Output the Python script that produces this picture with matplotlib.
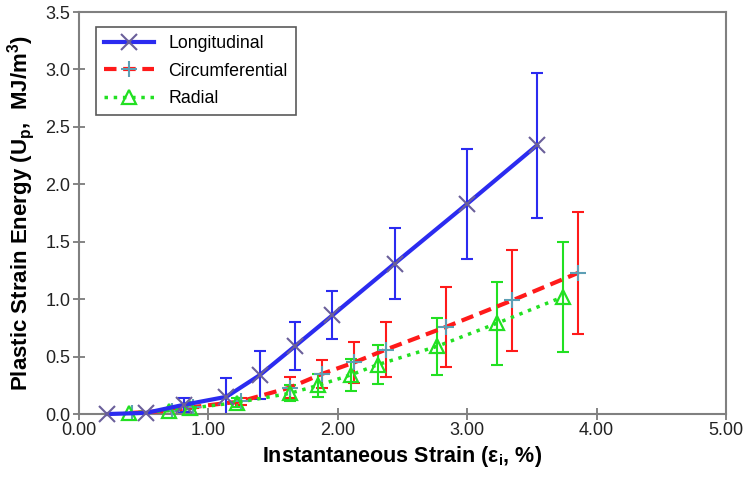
import matplotlib
matplotlib.use('Agg')
import matplotlib.pyplot as plt

plt.rcParams['font.family'] = ['Liberation Sans', 'DejaVu Sans']
plt.rcParams['mathtext.fontset'] = 'custom'
plt.rcParams['mathtext.rm'] = 'Liberation Sans'
plt.rcParams['mathtext.bf'] = 'Liberation Sans:bold'

# ---- data ----
long_x = [0.22, 0.52, 0.81, 1.14, 1.40, 1.67, 1.96, 2.44, 3.00, 3.54]
long_y = [0.00, 0.01, 0.08, 0.15, 0.34, 0.59, 0.86, 1.31, 1.83, 2.34]
long_err = [0.00, 0.00, 0.06, 0.16, 0.21, 0.21, 0.21, 0.31, 0.48, 0.63]

circ_x = [0.41, 0.72, 0.88, 1.25, 1.63, 1.88, 2.13, 2.37, 2.84, 3.35, 3.86]
circ_y = [0.01, 0.03, 0.06, 0.11, 0.23, 0.35, 0.45, 0.56, 0.76, 0.99, 1.23]
circ_err = [0.00, 0.00, 0.01, 0.03, 0.09, 0.12, 0.18, 0.24, 0.35, 0.44, 0.53]

rad_x = [0.39, 0.70, 0.86, 1.22, 1.63, 1.85, 2.10, 2.31, 2.77, 3.23, 3.74]
rad_y = [0.01, 0.03, 0.05, 0.10, 0.18, 0.25, 0.34, 0.43, 0.59, 0.79, 1.02]
rad_err = [0.00, 0.00, 0.01, 0.04, 0.07, 0.10, 0.14, 0.17, 0.25, 0.36, 0.48]

xticks = [0, 1, 2, 3, 4, 5]
yticks = [0, 0.5, 1.0, 1.5, 2.0, 2.5, 3.0, 3.5]

blue = '#2b2bf0'
red = '#ff1a1a'
green = '#22e022'

fig = plt.figure(figsize=(7.5, 4.82), dpi=100)
ax = fig.add_axes([0.105, 0.141, 0.863, 0.834])

# error bars first (drawn under lines)
ax.errorbar(long_x, long_y, yerr=long_err, fmt='none', ecolor=blue, elinewidth=1.5, capsize=4, capthick=1.5, zorder=2)
ax.errorbar(circ_x, circ_y, yerr=circ_err, fmt='none', ecolor=red, elinewidth=1.5, capsize=4, capthick=1.5, zorder=2)
ax.errorbar(rad_x, rad_y, yerr=rad_err, fmt='none', ecolor=green, elinewidth=1.5, capsize=4, capthick=1.5, zorder=2)

ax.plot(long_x, long_y, '-', color=blue, linewidth=3, marker='x', markersize=11,
        markeredgecolor='#6a5f9a', markeredgewidth=1.5, label='Longitudinal', zorder=4, clip_on=False)
ax.plot(circ_x, circ_y, '--', color=red, linewidth=3, dashes=(3, 1.6), marker='+', markersize=11,
        markeredgecolor='#5d9fb5', markeredgewidth=1.5, label='Circumferential', zorder=3, clip_on=False)
ax.plot(rad_x, rad_y, ':', color=green, linewidth=2.5, marker='^', markersize=10,
        markerfacecolor='none', markeredgecolor=green, markeredgewidth=1.6, label='Radial', zorder=3, clip_on=False)

ax.set_xlim(0, 5)
ax.set_ylim(0, 3.5)
ax.set_xticks(xticks)
ax.set_xticklabels(['%.2f' % v for v in xticks])
ax.set_yticks(yticks)
ax.set_yticklabels(['%.1f' % v for v in yticks])
ax.tick_params(direction='inout', length=8, width=1.2, color='#707070', labelsize=13, labelcolor='#222222', pad=2)

for sp in ax.spines.values():
    sp.set_color('#808080')
    sp.set_linewidth(1.5)

ax.set_xlabel(r'Instantaneous Strain (ε$_\mathbf{i}$, %)', fontsize=15.5, fontweight='bold', labelpad=3)
ax.set_ylabel(r'Plastic Strain Energy (U$_\mathbf{p}$,  MJ/m$^\mathbf{3}$)', fontsize=16, fontweight='bold', labelpad=6)

leg = ax.legend(loc='upper left', bbox_to_anchor=(0.027, 0.963), fontsize=12.8, handlelength=2.8,
                frameon=True, fancybox=False, borderpad=0.45, labelspacing=0.6, borderaxespad=0)
leg.get_frame().set_edgecolor('#303030')
leg.get_frame().set_linewidth(1.2)

fig.savefig('out.png', dpi=100)
